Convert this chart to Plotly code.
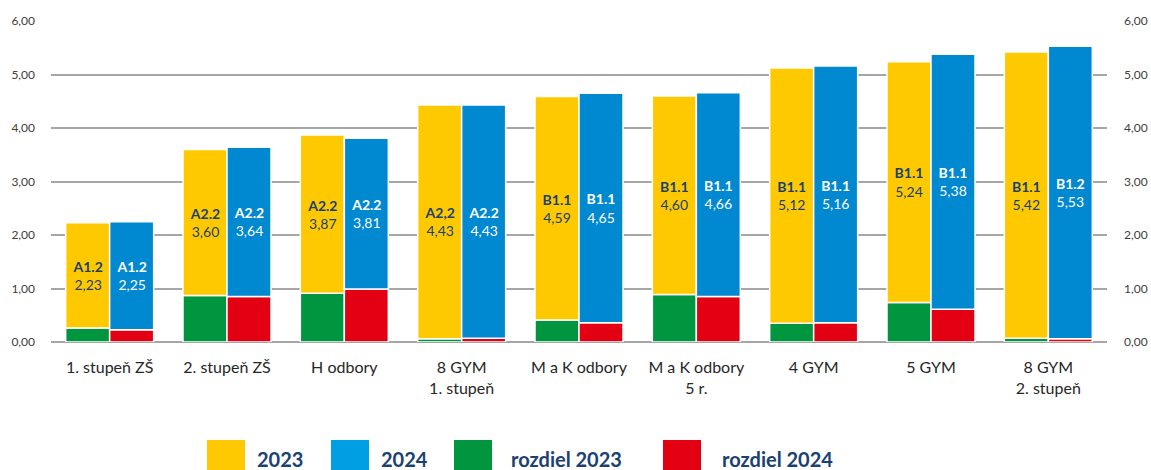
import plotly.graph_objects as go

categories = ["1. stupeň ZŠ", "2. stupeň ZŠ", "H odbory", "8 GYM<br>1. stupeň",
              "M a K odbory", "M a K odbory<br>5 r.", "4 GYM", "5 GYM", "8 GYM<br>2. stupeň"]
values_2023 = [2.23, 3.60, 3.87, 4.43, 4.59, 4.60, 5.12, 5.24, 5.42]
values_2024 = [2.25, 3.64, 3.81, 4.43, 4.65, 4.66, 5.16, 5.38, 5.53]
levels_2023 = ["A1.2", "A2.2", "A2.2", "A2,2", "B1.1", "B1.1", "B1.1", "B1.1", "B1.1"]
levels_2024 = ["A1.2", "A2.2", "A2.2", "A2.2", "B1.1", "B1.1", "B1.1", "B1.1", "B1.2"]
rozdiel_2023 = [0.26, 0.87, 0.91, 0.06, 0.41, 0.89, 0.35, 0.74, 0.07]
rozdiel_2024 = [0.23, 0.85, 0.99, 0.07, 0.36, 0.85, 0.36, 0.61, 0.06]
y_ticks = [0, 1, 2, 3, 4, 5, 6]

YELLOW = "#FFC900"
BLUE = "#0088D1"
GREEN = "#00963F"
RED = "#E30013"
LEG_BLUE = "#009FE3"
NAVY = "#1B4173"
FONT = "Lato"

W, H = 1151, 470
L, R, T, B = 51, 44, 21, 128


def fmt(v):
    return f"{v:.2f}".replace(".", ",")


text_2023 = [f"<b>{l}</b><br>{fmt(v)}" for l, v in zip(levels_2023, values_2023)]
text_2024 = [f"<b>{l}</b><br>{fmt(v)}" for l, v in zip(levels_2024, values_2024)]

line = dict(color="white", width=1.5)
fig = go.Figure()
fig.add_trace(go.Bar(x=categories, y=rozdiel_2023, offsetgroup="a", marker=dict(color=GREEN, line=line),
                     name="rozdiel 2023", hoverinfo="skip"))
fig.add_trace(go.Bar(x=categories, y=rozdiel_2024, offsetgroup="b", marker=dict(color=RED, line=line),
                     name="rozdiel 2024", hoverinfo="skip"))
fig.add_trace(go.Bar(x=categories, y=[v - d for v, d in zip(values_2023, rozdiel_2023)], base=rozdiel_2023,
                     offsetgroup="a", marker=dict(color=YELLOW, line=line), name="2023",
                     text=text_2023, textposition="inside", insidetextanchor="middle", textangle=0,
                     textfont=dict(color=NAVY, size=14, family=FONT), hoverinfo="skip"))
fig.add_trace(go.Bar(x=categories, y=[v - d for v, d in zip(values_2024, rozdiel_2024)], base=rozdiel_2024,
                     offsetgroup="b", marker=dict(color=BLUE, line=line), name="2024",
                     text=text_2024, textposition="inside", insidetextanchor="middle", textangle=0,
                     textfont=dict(color="white", size=14, family=FONT), hoverinfo="skip"))

axis_common = dict(range=[0, 6], tickvals=y_ticks, tickformat=".2f", automargin=False,
                   tickfont=dict(size=12, color="#404040", family=FONT), fixedrange=True)
fig.update_layout(
    template="none",
    width=W, height=H,
    margin=dict(l=L, r=R, t=T, b=B, autoexpand=False),
    paper_bgcolor="white", plot_bgcolor="white",
    separators=", ",
    barmode="group", bargap=0.25, bargroupgap=0.0,
    showlegend=False,
    font=dict(family=FONT),
    xaxis=dict(tickfont=dict(size=16, color="#262626", family=FONT), showline=False, ticks="",
               showgrid=False, automargin=False, fixedrange=True, ticklabelstandoff=14),
    yaxis=dict(**axis_common, showgrid=True, gridcolor="#A6A6A6", gridwidth=1.5, ticks="",
               zeroline=True, zerolinecolor="#A6A6A6", zerolinewidth=1.5, ticklabelstandoff=15),
    yaxis2=dict(**axis_common, overlaying="y", side="right", showgrid=False, zeroline=False,
                ticks="", ticklabelstandoff=16),
)
# invisible trace to activate the right axis
fig.add_trace(go.Scatter(x=[categories[0]], y=[0], yaxis="y2", mode="markers",
                         marker=dict(opacity=0), hoverinfo="skip", showlegend=False))


def xp(px):
    return (px - L) / (W - L - R)


def yp(py):
    return (H - B - py) / (H - T - B)


legend_items = [("2023", YELLOW, 207, 255), ("2024", LEG_BLUE, 331, 379),
                ("rozdiel 2023", GREEN, 454, 509), ("rozdiel 2024", RED, 663, 720)]
for label, color, sx, tx in legend_items:
    fig.add_shape(type="rect", xref="paper", yref="paper", x0=xp(sx), x1=xp(sx + 38),
                  y0=yp(470), y1=yp(440), fillcolor=color, line=dict(width=0), layer="above")
    fig.add_annotation(text=f"<b>{label}</b>", xref="paper", yref="paper", x=xp(tx), y=yp(459),
                       xanchor="left", yanchor="middle", showarrow=False,
                       font=dict(size=20, color=NAVY, family=FONT))

fig.write_html("out.html", config={"displayModeBar": False},
               post_script="document.body.style.margin='0';document.body.style.overflow='hidden';")
